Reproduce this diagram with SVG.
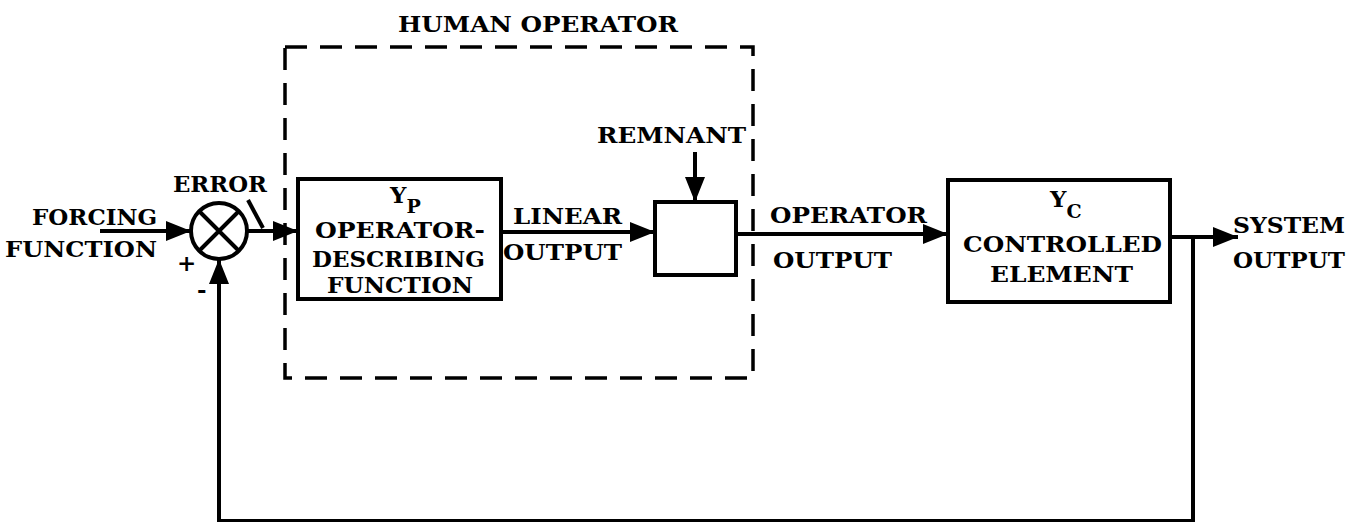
<svg xmlns="http://www.w3.org/2000/svg" width="1354" height="522" viewBox="0 0 1354 522">
<style>
text{font-family:"DejaVu Serif","Liberation Serif",serif;font-weight:bold;font-size:23px;fill:#000}
.sub{font-size:19px}
.blk{fill:none;stroke:#000;stroke-width:4}
.ln{fill:none;stroke:#000;stroke-width:4}
</style>
<defs>
<marker id="ah" markerUnits="userSpaceOnUse" markerWidth="26" markerHeight="22" refX="25" refY="11" orient="auto">
<path d="M0,1 L25,11 L0,21 z" fill="#000"/>
</marker>
</defs>
<rect width="1354" height="522" fill="#fff"/>

<g id="human-operator">
<rect x="285" y="47" width="468" height="331" fill="none" stroke="#000" stroke-width="3.5" stroke-dasharray="22 13"/>
<text x="398" y="32" textLength="280" lengthAdjust="spacingAndGlyphs">HUMAN OPERATOR</text>
</g>

<g id="sum">
<circle cx="219" cy="231" r="28" class="blk"/>
<path d="M199,211 L239,251 M239,211 L199,251" class="ln" stroke-width="3.5"/>
<text x="177" y="271" font-size="20">+</text>
<text x="197" y="298" font-size="20">-</text>
</g>

<g id="yp">
<rect x="298" y="179" width="203" height="120" class="blk"/>
<text x="390" y="203">Y<tspan class="sub" dy="10">P</tspan></text>
<text x="315" y="238" textLength="170" lengthAdjust="spacingAndGlyphs">OPERATOR-</text>
<text x="312" y="267" textLength="173" lengthAdjust="spacingAndGlyphs">DESCRIBING</text>
<text x="327" y="293" textLength="146" lengthAdjust="spacingAndGlyphs">FUNCTION</text>
</g>

<g id="remnant-box">
<rect x="655" y="202" width="81" height="73" class="blk"/>
</g>

<g id="yc">
<rect x="948" y="180" width="222" height="122" class="blk"/>
<text x="1050" y="207">Y<tspan class="sub" dy="11">C</tspan></text>
<text x="963" y="252" textLength="199" lengthAdjust="spacingAndGlyphs">CONTROLLED</text>
<text x="990" y="282" textLength="143" lengthAdjust="spacingAndGlyphs">ELEMENT</text>
</g>

<g id="labels">
<text x="32" y="225" textLength="125" lengthAdjust="spacingAndGlyphs">FORCING</text>
<text x="5" y="257" textLength="152" lengthAdjust="spacingAndGlyphs">FUNCTION</text>
<text x="173" y="192" textLength="94" lengthAdjust="spacingAndGlyphs">ERROR</text>
<text x="597" y="143" textLength="149" lengthAdjust="spacingAndGlyphs">REMNANT</text>
<text x="513" y="224" textLength="109" lengthAdjust="spacingAndGlyphs">LINEAR</text>
<text x="503" y="260" textLength="119" lengthAdjust="spacingAndGlyphs">OUTPUT</text>
<text x="770" y="223" textLength="157" lengthAdjust="spacingAndGlyphs">OPERATOR</text>
<text x="773" y="268" textLength="119" lengthAdjust="spacingAndGlyphs">OUTPUT</text>
<text x="1233" y="233" textLength="112" lengthAdjust="spacingAndGlyphs">SYSTEM</text>
<text x="1233" y="268" textLength="112" lengthAdjust="spacingAndGlyphs">OUTPUT</text>
</g>

<g id="connectors">
<path d="M100,231 L191,231" class="ln" marker-end="url(#ah)"/>
<path d="M247,231 L298,231" class="ln" marker-end="url(#ah)"/>
<path d="M248,200 L263,228" class="ln" stroke-width="3"/>
<path d="M501,232 L655,232" class="ln" marker-end="url(#ah)"/>
<path d="M695,152 L695,202" class="ln" marker-end="url(#ah)"/>
<path d="M736,234 L948,234" class="ln" marker-end="url(#ah)"/>
<path d="M1170,237 L1238,237" class="ln" marker-end="url(#ah)"/>
<path d="M1193,237 L1193,521 L219,521 L219,259" class="ln" marker-end="url(#ah)"/>
</g>
</svg>
